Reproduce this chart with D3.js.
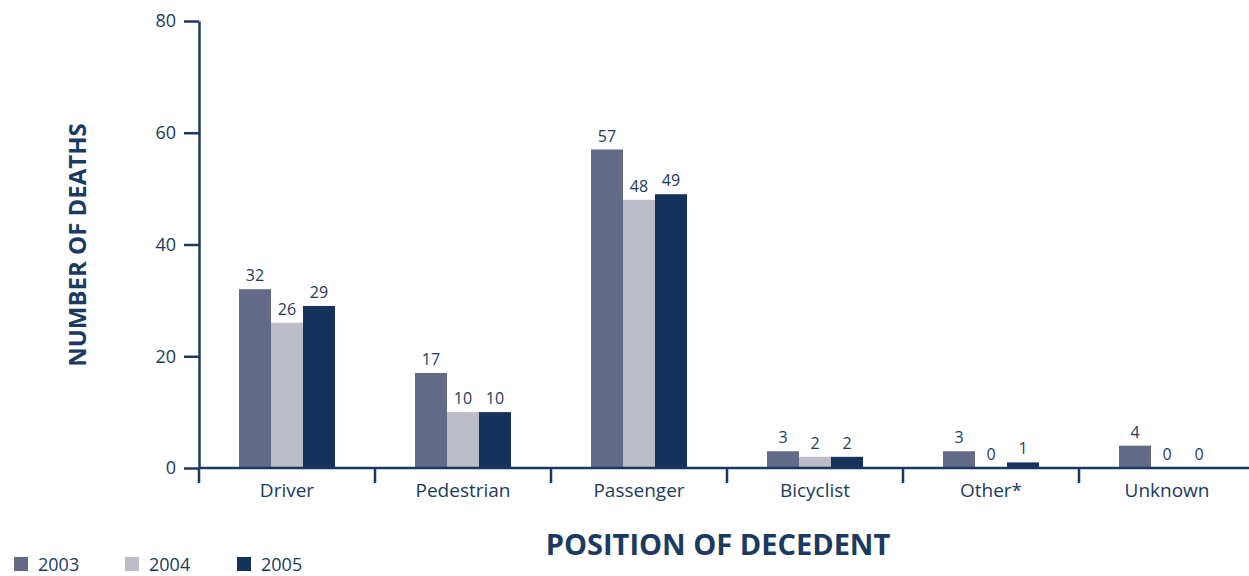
<!DOCTYPE html>
<html>
<head>
<meta charset="utf-8">
<script src="https://cdn.jsdelivr.net/npm/d3@7"></script>
<style>
  html, body { margin: 0; padding: 0; background: #fff; }
  svg { display: block; }
  text { font-family: "Open Sans", "Noto Sans", sans-serif; fill: #1b3a62; }
</style>
</head>
<body>
<svg id="chart" width="1249" height="576"></svg>
<script>
// Deaths by position of decedent, 2003–2005
const categories = ["Driver", "Pedestrian", "Passenger", "Bicyclist", "Other*", "Unknown"];
const years = ["2003", "2004", "2005"];
const deaths2003 = [32, 17, 57, 3, 3, 4];
const deaths2004 = [26, 10, 48, 2, 0, 0];
const deaths2005 = [29, 10, 49, 2, 1, 0];
const yTicks = [0, 20, 40, 60, 80];

const seriesValues = [deaths2003, deaths2004, deaths2005];
const colors = ["#636986", "#bbbcc8", "#14325a"];
const axisColor = "#1b3a62";

const svg = d3.select("#chart");
const plotLeft = 199, plotTop = 21, plotBottom = 468, catWidth = 176;

const x = d3.scaleBand()
  .domain(categories)
  .range([plotLeft, plotLeft + catWidth * categories.length])
  .paddingInner(0).paddingOuter(0);

const xInner = d3.scaleBand()
  .domain(years)
  .range([0, 96]);

const y = d3.scaleLinear().domain([0, 80]).range([plotBottom, plotTop]);

// Bars
const groups = svg.append("g").selectAll("g")
  .data(categories)
  .join("g")
  .attr("transform", d => `translate(${x(d) + (x.bandwidth() - 96) / 2},0)`);

years.forEach((yr, si) => {
  groups.append("rect")
    .attr("x", xInner(yr))
    .attr("width", xInner.bandwidth())
    .attr("y", (d, i) => y(seriesValues[si][i]))
    .attr("height", (d, i) => plotBottom - y(seriesValues[si][i]))
    .attr("fill", colors[si]);

  groups.append("text")
    .attr("x", xInner(yr) + xInner.bandwidth() / 2)
    .attr("y", (d, i) => y(seriesValues[si][i]) - 8)
    .attr("text-anchor", "middle")
    .attr("font-size", 16)
    .text((d, i) => seriesValues[si][i]);
});

// Y axis
const yAxis = svg.append("g")
  .attr("transform", `translate(${plotLeft},0)`)
  .call(d3.axisLeft(y).tickValues(yTicks).tickSize(15).tickPadding(8).tickSizeOuter(0));
yAxis.select(".domain").attr("stroke", axisColor).attr("stroke-width", 2.5);
yAxis.selectAll(".tick line").attr("stroke", axisColor).attr("stroke-width", 2.5);
yAxis.selectAll(".tick text").attr("font-size", 18).attr("fill", axisColor)
  .style("font-family", '"Open Sans", "Noto Sans", sans-serif');

// X axis baseline with group separators
const xAxis = svg.append("g")
  .attr("transform", `translate(0,${plotBottom})`)
  .call(d3.axisBottom(x).tickSize(0).tickPadding(16).tickSizeOuter(0));
xAxis.select(".domain").attr("stroke", axisColor).attr("stroke-width", 2.5)
  .attr("d", `M${plotLeft},0H1249`);
xAxis.selectAll(".tick text").attr("font-size", 19).attr("fill", axisColor)
  .style("font-family", '"Open Sans", "Noto Sans", sans-serif');

svg.append("g").selectAll("line")
  .data(categories)
  .join("line")
  .attr("x1", d => x(d)).attr("x2", d => x(d))
  .attr("y1", plotBottom).attr("y2", plotBottom + 15)
  .attr("stroke", axisColor).attr("stroke-width", 2.5);

// Axis titles
svg.append("text")
  .attr("transform", `translate(86,245) rotate(-90)`)
  .attr("text-anchor", "middle")
  .attr("font-size", 24).attr("font-weight", "bold")
  .text("NUMBER OF DEATHS");

svg.append("text")
  .attr("x", 718).attr("y", 555)
  .attr("text-anchor", "middle")
  .attr("font-size", 29).attr("font-weight", "bold")
  .text("POSITION OF DECEDENT");

// Legend
const legendX = [14, 125, 237];
const legend = svg.append("g").selectAll("g")
  .data(years)
  .join("g")
  .attr("transform", (d, i) => `translate(${legendX[i]},557)`);
legend.append("rect").attr("width", 14).attr("height", 14).attr("fill", (d, i) => colors[i]);
legend.append("text").attr("x", 24).attr("y", 14).attr("font-size", 18).text(d => d);
</script>
</body>
</html>
